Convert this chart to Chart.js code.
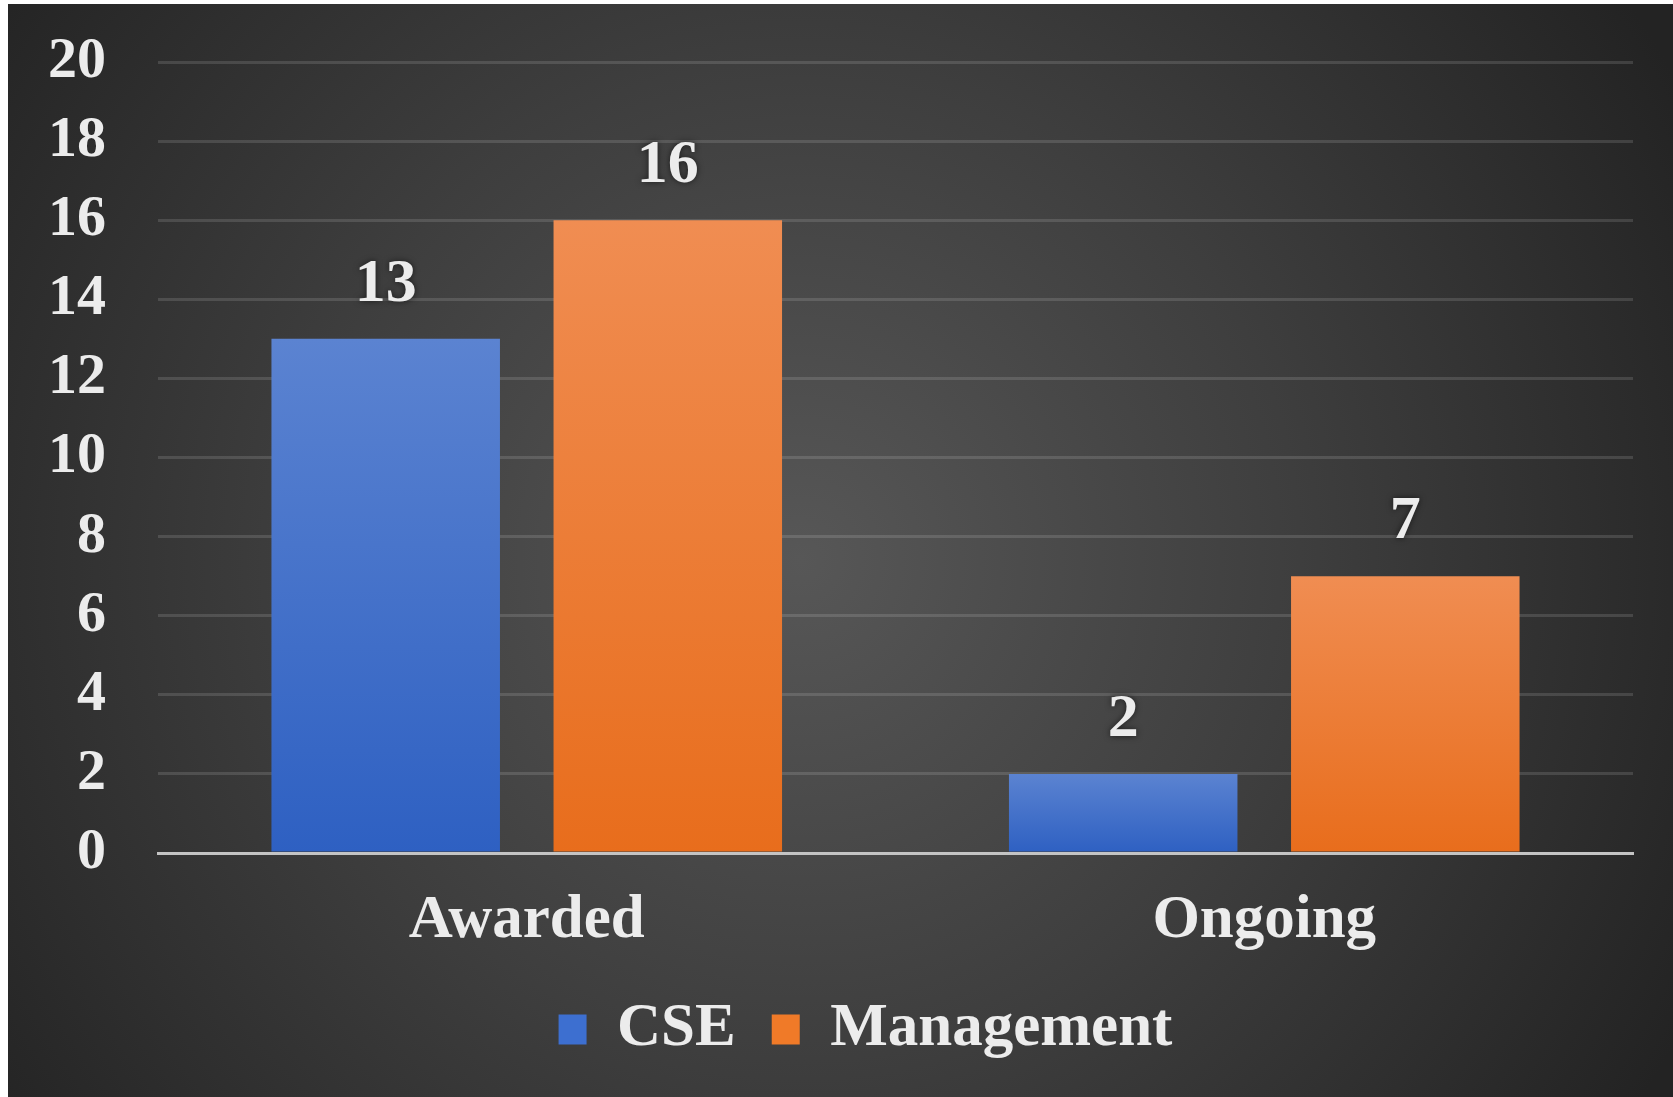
<!DOCTYPE html>
<html>
<head>
<meta charset="utf-8">
<script src="https://cdn.jsdelivr.net/npm/chart.js@4/dist/chart.umd.min.js"></script>
<style>
  html, body { margin: 0; padding: 0; background: #fff; }
  .wrap { width: 1673px; height: 1097px; position: relative; }
</style>
</head>
<body>
<div class="wrap"><canvas id="chart"></canvas></div>
<script>
  const categories = ['Awarded', 'Ongoing'];
  const cseValues = [13, 2];
  const managementValues = [16, 7];
  const yTicks = [0, 2, 4, 6, 8, 10, 12, 14, 16, 18, 20];

  const serif = "'Liberation Serif', 'Times New Roman', serif";
  const textColor = '#ececec';

  const backdrop = {
    id: 'backdrop',
    beforeDraw(chart) {
      const { ctx, width, height } = chart;
      ctx.save();
      ctx.fillStyle = '#fff';
      ctx.fillRect(0, 0, width, height);
      const g = ctx.createRadialGradient(800, 560, 0, 800, 560, 1000);
      g.addColorStop(0, '#575757');
      g.addColorStop(0.5, '#3e3e3e');
      g.addColorStop(1, '#232323');
      ctx.fillStyle = g;
      ctx.fillRect(8, 4, width - 8, height - 4);
      ctx.restore();
    }
  };

  // legend sits a bit right of centre in the original
  const legendShift = {
    id: 'legendShift',
    afterLayout(chart) {
      chart.legend.left += 45;
      chart.legend.right += 45;
    }
  };

  const valueLabels = {
    id: 'valueLabels',
    afterDatasetsDraw(chart) {
      const { ctx } = chart;
      ctx.save();
      ctx.font = `bold 62px ${serif}`;
      ctx.fillStyle = textColor;
      ctx.textAlign = 'center';
      ctx.textBaseline = 'middle';
      ctx.shadowColor = 'rgba(0,0,0,0.6)';
      ctx.shadowBlur = 6;
      chart.data.datasets.forEach((ds, i) => {
        chart.getDatasetMeta(i).data.forEach((bar, j) => ctx.fillText(ds.data[j], bar.x, bar.y - 54));
      });
      ctx.restore();
    }
  };

  const barFill = (top, bottom) => (context) => {
    const { chart, raw } = context;
    if (!chart.chartArea || raw === undefined) return bottom;
    const y = chart.scales.y;
    const g = chart.ctx.createLinearGradient(0, y.getPixelForValue(raw), 0, y.getPixelForValue(0));
    g.addColorStop(0, top);
    g.addColorStop(1, bottom);
    return g;
  };

  new Chart(document.getElementById('chart'), {
    type: 'bar',
    data: {
      labels: categories,
      datasets: [
        { label: 'CSE', data: cseValues, backgroundColor: barFill('#5b83d1', '#2e60c2'), categoryPercentage: 0.765, barPercentage: 0.81 },
        { label: 'Management', data: managementValues, backgroundColor: barFill('#f08d52', '#e86d1c'), categoryPercentage: 0.765, barPercentage: 0.81 }
      ]
    },
    options: {
      responsive: true,
      maintainAspectRatio: false,
      animation: false,
      layout: { padding: { left: 8, right: 40, top: 62, bottom: 27 } },
      plugins: {
        legend: {
          position: 'bottom',
          labels: {
            color: textColor,
            font: { family: serif, size: 61, weight: 'bold' },
            boxWidth: 28,
            boxHeight: 30,
            padding: 36,
            generateLabels: (chart) => chart.data.datasets.map((ds, i) => ({
              text: ds.label,
              fillStyle: i === 0 ? '#3d6fd0' : '#f07a28',
              strokeStyle: 'transparent',
              lineWidth: 0,
              fontColor: textColor,
              datasetIndex: i
            }))
          }
        },
        tooltip: { enabled: false }
      },
      scales: {
        x: {
          afterFit: (scale) => { scale.height = 110; },
          grid: { display: false, drawTicks: false },
          border: { color: '#c4c4c4', width: 3 },
          ticks: { color: textColor, padding: 32, font: { family: serif, size: 61, weight: 'bold' } }
        },
        y: {
          min: 0,
          max: 20,
          afterFit: (scale) => { scale.width = 150; scale.paddingTop = 0; scale.paddingBottom = 0; },
          afterBuildTicks: (scale) => { scale.ticks = yTicks.map((value) => ({ value })); },
          grid: { color: 'rgba(255,255,255,0.13)', lineWidth: 3, drawTicks: false },
          border: { display: false },
          ticks: { color: textColor, padding: 52, font: { family: serif, size: 58, weight: 'bold' } }
        }
      }
    },
    plugins: [backdrop, legendShift, valueLabels]
  });
</script>
</body>
</html>
